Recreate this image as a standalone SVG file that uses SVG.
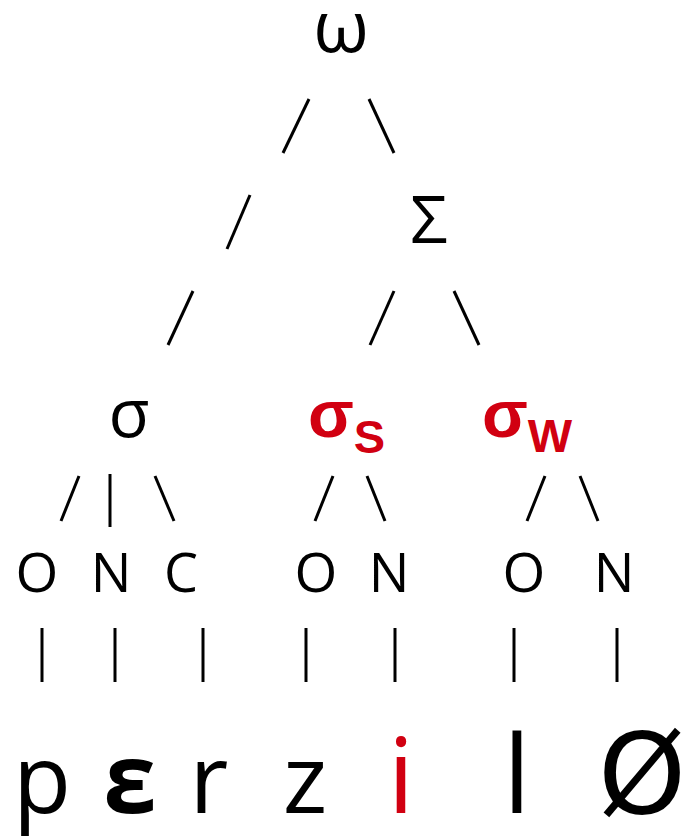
<svg xmlns="http://www.w3.org/2000/svg" width="684" height="837" viewBox="0 0 684 837">
<style>
.t{font-family:"Open Sans","DejaVu Sans",sans-serif;fill:#000;text-anchor:middle}
.r{font-family:"Liberation Sans",Arial,sans-serif;font-weight:bold;fill:#d10011}
.c line{stroke:#000;stroke-width:3;stroke-linecap:butt}
</style>
<rect width="684" height="837" fill="#fff"/>
<g class="c" id="connectors">
<line x1="283" y1="153" x2="309" y2="99"/>
<line x1="369" y1="99" x2="394" y2="153"/>
<line x1="227" y1="249" x2="250" y2="195"/>
<line x1="168" y1="345" x2="193" y2="291"/>
<line x1="370" y1="345" x2="394" y2="291"/>
<line x1="454" y1="291" x2="479" y2="345"/>
<line x1="79" y1="476" x2="61" y2="521"/>
<line x1="110" y1="474" x2="110" y2="527"/>
<line x1="155" y1="476" x2="174" y2="521"/>
<line x1="333" y1="476" x2="315" y2="521"/>
<line x1="367" y1="476" x2="385" y2="521"/>
<line x1="545" y1="476" x2="527" y2="521"/>
<line x1="580" y1="476" x2="598" y2="521"/>
<line x1="42" y1="628" x2="42" y2="682"/>
<line x1="115" y1="628" x2="115" y2="682"/>
<line x1="203" y1="628" x2="203" y2="682"/>
<line x1="306" y1="628" x2="306" y2="682"/>
<line x1="395" y1="628" x2="395" y2="682"/>
<line x1="514" y1="628" x2="514" y2="682"/>
<line x1="617" y1="628" x2="617" y2="682"/>
</g>
<g id="omega"><text class="t" x="341" y="52" font-size="72">ω</text></g>
<g id="Sigma"><text class="t" x="429" y="243" font-size="66">Σ</text></g>
<g id="sigma"><text class="t" x="129" y="437" font-size="67">σ</text></g>
<g id="sigmaS"><text class="r" x="308" y="437" font-size="67">σ<tspan font-size="47" dy="16">S</tspan></text></g>
<g id="sigmaW"><text class="r" x="482" y="437" font-size="67">σ<tspan font-size="47" dy="15">W</tspan></text></g>
<g id="O1"><text class="t" x="37" y="592" font-size="55">O</text></g>
<g id="N1"><text class="t" x="111" y="592" font-size="54">N</text></g>
<g id="C1"><text class="t" x="181" y="592" font-size="54">C</text></g>
<g id="O2"><text class="t" x="316" y="592" font-size="55">O</text></g>
<g id="N2"><text class="t" x="389" y="592" font-size="54">N</text></g>
<g id="O3"><text class="t" x="524" y="592" font-size="55">O</text></g>
<g id="N3"><text class="t" x="614" y="592" font-size="54">N</text></g>
<g id="p"><text class="t" x="42" y="813" font-size="95">p</text></g>
<g id="eps"><text class="t" x="130" y="813" font-size="96" font-weight="bold">ε</text></g>
<g id="r"><text class="t" x="209" y="813" font-size="95">r</text></g>
<g id="z"><text class="t" x="305" y="813" font-size="95">z</text></g>
<g id="i"><text class="t" x="401" y="813" font-size="105" style="fill:#d10011">i</text></g>
<g id="l"><text class="t" x="517" y="813" font-size="108">l</text></g>
<g id="O"><text x="642" y="813" font-size="112" style="font-family:'DejaVu Sans',sans-serif;text-anchor:middle;fill:#000">Ø</text></g>
</svg>
